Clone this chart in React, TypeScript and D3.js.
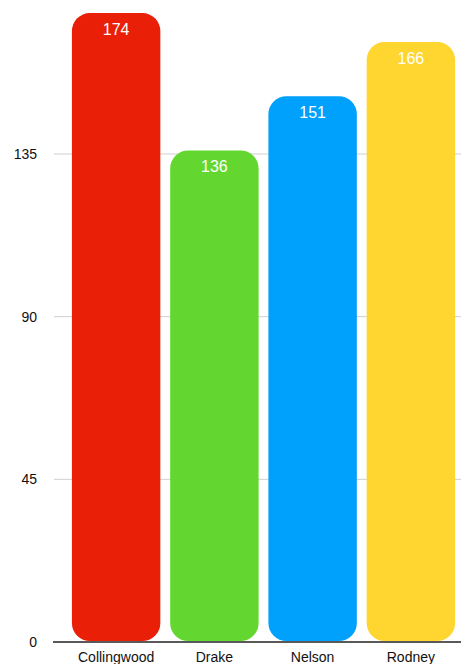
import React from "react";
import * as d3 from "d3";

const categories = ["Collingwood", "Drake", "Nelson", "Rodney"];
const values = [174, 136, 151, 166];
const colors = ["#EA1F07", "#63D72F", "#00A0FD", "#FFD52F"];
const yTicks = [0, 45, 90, 135];

const W = 461;
const H = 664;

export default function App() {
  const x = d3
    .scaleBand<string>()
    .domain(categories)
    .range([67, 460])
    .paddingInner(0.1)
    .paddingOuter(0.05);
  const y = d3.scaleLinear().domain([0, 135]).range([642, 154]);
  const font = "'Liberation Sans', Arial, Helvetica, sans-serif";
  const r = 18;

  return (
    <svg
      width={W}
      height={H}
      style={{ position: "absolute", left: 0, top: 0, display: "block" }}
      fontFamily={font}
    >
      <rect width={W} height={H} fill="#fff" />
      {yTicks.map((t) => (
        <g key={t}>
          {t !== 0 && (
            <line x1={54} x2={W} y1={y(t)} y2={y(t)} stroke="#cfcfcf" strokeWidth={1} />
          )}
          <text x={37} y={y(t)} dy="0.35em" textAnchor="end" fontSize={14} fill="#111">
            {t}
          </text>
        </g>
      ))}
      {categories.map((c, i) => {
        const bx = x(c)!;
        const bw = x.bandwidth();
        const top = y(values[i]);
        const bottom = y(0) - 1;
        return (
          <g key={c}>
            <rect x={bx} y={top} width={bw} height={bottom - top} rx={r} ry={r} fill={colors[i]} />
            <text
              x={bx + bw / 2}
              y={top + 22}
              textAnchor="middle"
              fontSize={16}
              fill="#fff"
            >
              {values[i]}
            </text>
            <text x={bx + bw / 2} y={662} textAnchor="middle" fontSize={14} fill="#111">
              {c}
            </text>
          </g>
        );
      })}
      <line x1={53} x2={W} y1={642} y2={642} stroke="#222" strokeWidth={1.5} />
    </svg>
  );
}
